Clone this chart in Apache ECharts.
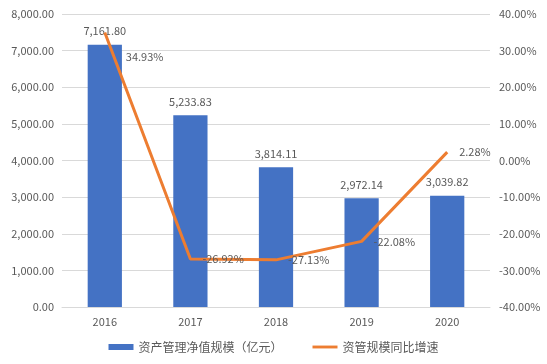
<!DOCTYPE html>
<html><head><meta charset="utf-8">
<script src="https://cdn.jsdelivr.net/npm/echarts@6/dist/echarts.min.js"></script>
<style>html,body{margin:0;padding:0;background:#fff}#c{width:547px;height:364px}</style>
</head><body><div id="c"></div>
<script>
const categories = ['2016','2017','2018','2019','2020'];
const netValue = [7161.80, 5233.83, 3814.11, 2972.14, 3039.82];
const growth = [34.93, -26.92, -27.13, -22.08, 2.28];
const barName = '资产管理净值规模（亿元）';
const lineName = '资管规模同比增速';

const FONT = 'Noto Sans CJK SC';
const fmtNum = v => v.toLocaleString('en-US', {minimumFractionDigits: 2, maximumFractionDigits: 2});
const chart = echarts.init(document.getElementById('c'));
chart.setOption({
  animation: false,
  textStyle: {fontFamily: FONT},
  grid: {left: 62, right: 57, top: 14, bottom: 57},
  legend: {
    bottom: 6, left: 'center', itemGap: 30, itemWidth: 25, itemHeight: 6,
    textStyle: {color: '#595959', fontSize: 12, fontFamily: FONT},
    data: [
      {name: barName, icon: 'rect'},
      {name: lineName, icon: 'path://M0,0 L26,0 L26,3 L0,3 Z', itemStyle: {color: '#ED7D31'}}
    ]
  },
  xAxis: {
    type: 'category', data: categories,
    axisLine: {lineStyle: {color: '#D9D9D9'}},
    axisTick: {show: false},
    axisLabel: {color: '#595959', fontSize: 11, margin: 9}
  },
  yAxis: [{
    type: 'value', min: 0, max: 8000, interval: 1000,
    axisLabel: {color: '#595959', fontSize: 11, margin: 8, formatter: v => fmtNum(v)},
    splitLine: {lineStyle: {color: '#D9D9D9'}},
    axisLine: {show: false}, axisTick: {show: false}
  }, {
    type: 'value', min: -40, max: 40, interval: 10,
    axisLabel: {color: '#595959', fontSize: 11, margin: 9, formatter: v => v.toFixed(2) + '%'},
    splitLine: {show: false},
    axisLine: {show: false}, axisTick: {show: false}
  }],
  series: [{
    name: barName, type: 'bar', data: netValue, barWidth: '40%',
    itemStyle: {color: '#4472C4'},
    label: {show: true, position: 'top', distance: 8, color: '#595959', fontSize: 11,
      formatter: p => fmtNum(p.value)}
  }, {
    name: lineName, type: 'line', yAxisIndex: 1,
    data: growth.map((v, i) => i === 0 ? {value: v, label: {offset: [9, 24]}} : v),
    symbol: 'circle', symbolSize: 0, showSymbol: true,
    lineStyle: {color: '#ED7D31', width: 3}, itemStyle: {color: '#ED7D31'},
    label: {show: true, position: 'right', distance: 12, color: '#595959', fontSize: 11,
      formatter: p => p.value.toFixed(2) + '%'}
  }]
});
</script></body></html>
